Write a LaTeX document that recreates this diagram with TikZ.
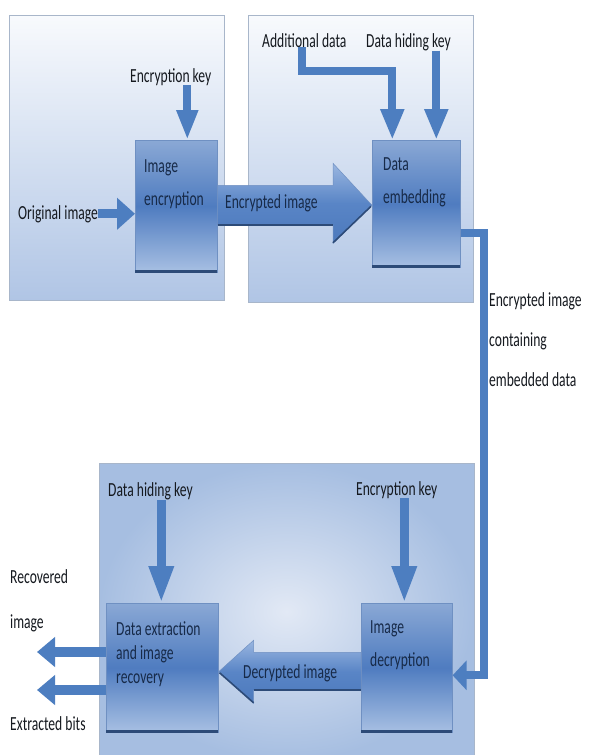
\documentclass[tikz,border=0pt]{standalone}
\usepackage{fontspec}
\setmainfont{Carlito}[FakeStretch=0.68]
\usetikzlibrary{arrows.meta,calc}
\definecolor{arr}{HTML}{4D7EC0}
\definecolor{panelline}{HTML}{A8B6CA}
\definecolor{pantop}{HTML}{F8FAFD}
\definecolor{panbot}{HTML}{B0C5E5}
\definecolor{radin}{HTML}{E2E9F5}
\definecolor{radout}{HTML}{A6BEE1}
\definecolor{boxa}{HTML}{8AA8D5}
\definecolor{boxb}{HTML}{4F7CC0}
\definecolor{boxc}{HTML}{A8C0E3}
\definecolor{boxline}{HTML}{6F90C2}
\definecolor{boxedge}{HTML}{2D4B78}
\definecolor{txt}{HTML}{15191F}
\definecolor{btxt}{HTML}{172A48}
\definecolor{biga}{HTML}{9AB6E0}
\definecolor{bigb}{HTML}{5985C6}
\definecolor{bigc}{HTML}{4C79BC}
\begin{document}
\begin{tikzpicture}[x=1pt,y=-1pt,
  panel/.style={draw=panelline, line width=0.8pt, top color=pantop, bottom color=panbot},
  bpanel/.style={draw=panelline, line width=0.8pt, inner color=radin, outer color=radout},
  procbox/.style={draw=boxline, line width=0.6pt, top color=boxa, bottom color=boxc, middle color=boxb,
    inner sep=0pt, anchor=north west},
  lbl/.style={inner sep=0pt, anchor=base west, text=txt, align=left, font=\fontsize{20}{24}\selectfont},
  blbl/.style={lbl, text=btxt, font=\fontsize{20}{33}\selectfont},
  blk/.style={draw=arr, line width=8pt, line join=miter, -{Triangle[length=31pt,width=22pt]}},
  bigarrow/.style={draw=boxline, line width=0.5pt, top color=biga, bottom color=bigc, middle color=bigb},
  edgeline/.style={draw=boxedge, line width=3pt},
  shadowline/.style={draw=boxedge, line width=1.6pt}
]
\useasboundingbox (0,0) rectangle (593,755);
\fill[white] (0,0) rectangle (593,755);

% panels
\path[panel] (9,15) rectangle (224,300);
\path[panel] (248,15) rectangle (473,302);
\path[bpanel] (99,463) rectangle (474,760);

% process boxes
\node[procbox, minimum width=82pt, minimum height=132pt] (enc) at (135,140) {};
\node[procbox, minimum width=88pt, minimum height=127pt] (emb) at (372,140) {};
\node[procbox, minimum width=112pt, minimum height=129pt] (ext) at (106,603) {};
\node[procbox, minimum width=91pt, minimum height=129pt] (dec) at (361,603) {};
\foreach \b in {enc,emb,ext,dec}{
  \draw[edgeline] ($(\b.south west)+(0.3,-1.5)$) -- ($(\b.south east)+(-0.3,-1.5)$);
}

% big arrow: encrypted image
\path[bigarrow] ($(enc.east)+(0,-21)$) -- ($(emb.west)+(-39,-18.5)$) -- ($(emb.west)+(-39,-40.5)$)
  -- ($(emb.west)+(0,1.5)$) -- ($(emb.west)+(-39,39.5)$) -- ($(emb.west)+(-39,21.5)$)
  -- ($(enc.east)+(0,19)$) -- cycle;
\draw[shadowline] ($(enc.east)+(0,18.5)$) -- ($(emb.west)+(-39,21)$);
\draw[shadowline] ($(emb.west)+(-39,39)$) -- ($(emb.west)+(-1,2.5)$);

% big arrow: decrypted image
\path[bigarrow] ($(dec.west)+(0,-15.5)$) -- ($(ext.east)+(35,-15.5)$) -- ($(ext.east)+(35,-27.5)$)
  -- ($(ext.east)+(0,4)$) -- ($(ext.east)+(35,35.5)$) -- ($(ext.east)+(35,22.5)$)
  -- ($(dec.west)+(0,22.5)$) -- cycle;
\draw[shadowline] ($(ext.east)+(35,22)$) -- ($(dec.west)+(0,22)$);
\draw[shadowline] ($(ext.east)+(1,5)$) -- ($(ext.east)+(35,35)$);

% texts outside boxes (base = baseline of last line)
\node[lbl] (enckey) at (130,82) {Encryption key};
\node[lbl] (orig) at (18,219) {Original image};
\node[lbl] (adddata) at (262,47) {Additional data};
\node[lbl] (dhkey) at (366,47) {Data hiding key};
\node[lbl, font=\fontsize{20}{40}\selectfont] (eicd) at (489,386) {Encrypted image\\containing\\embedded data};
\node[lbl] (dhkey2) at (108,496) {Data hiding key};
\node[lbl] (enckey2) at (356,495) {Encryption key};
\node[lbl, font=\fontsize{20}{45}\selectfont] (recov) at (10,628) {Recovered\\image};
\node[lbl] (bits) at (10,730) {Extracted bits};

% texts in boxes and arrows
\node[blbl] (enct) at (144,205) {Image\\encryption};
\node[blbl] (embt) at (383,203) {Data\\embedding};
\node[blbl, font=\fontsize{20}{24}\selectfont] (extt) at (116,683) {Data extraction\\and image\\recovery};
\node[blbl] (dect) at (370,666) {Image\\decryption};
\node[blbl] (encimg) at (225,208) {Encrypted image};
\node[blbl] (decimg) at (243,678) {Decrypted image};

% connectors
\coordinate (ek) at ($(enc.north)+(11,0)$);
\draw[blk, -{Triangle[length=30pt,width=20pt]}] (ek |- enckey.south) -- (ek);
\draw[blk, line width=9pt, -{Triangle[length=18pt,width=31pt]}] (orig.east) -- (enc.west |- orig.east);
\coordinate (ad) at ($(emb.north)+(-24,0)$);
\draw[blk] ($(adddata.south)+(-2,0)$) -- ++(0,24) -| (ad);
\coordinate (dk) at ($(emb.north)+(20,0)$);
\draw[blk] (dk |- dhkey.south) -- (dk);
\draw[blk, -{Triangle[length=14pt,width=29pt]}] ($(emb.east)+(0,29.5)$) -- ++(23,0) |- ($(dec.east)+(0,7.5)$);
\coordinate (dk2) at ($(ext.north)+(-1,0)$);
\draw[blk, line width=9pt, -{Triangle[length=37pt,width=23pt]}] (dk2 |- dhkey2.south) -- (dk2);
\coordinate (ek2) at ($(dec.north)+(-2.5,0)$);
\draw[blk, line width=9pt, -{Triangle[length=37pt,width=23pt]}] (ek2 |- enckey2.south) -- (ek2);
\coordinate (recout) at (37,652);
\coordinate (bitsout) at (37,690);
\draw[blk, line width=10pt, -{Triangle[length=18pt,width=29pt]}] (ext.west |- recout) -- (recout);
\draw[blk, line width=10pt, -{Triangle[length=18pt,width=29pt]}] (ext.west |- bitsout) -- (bitsout);
\end{tikzpicture}
\end{document}
